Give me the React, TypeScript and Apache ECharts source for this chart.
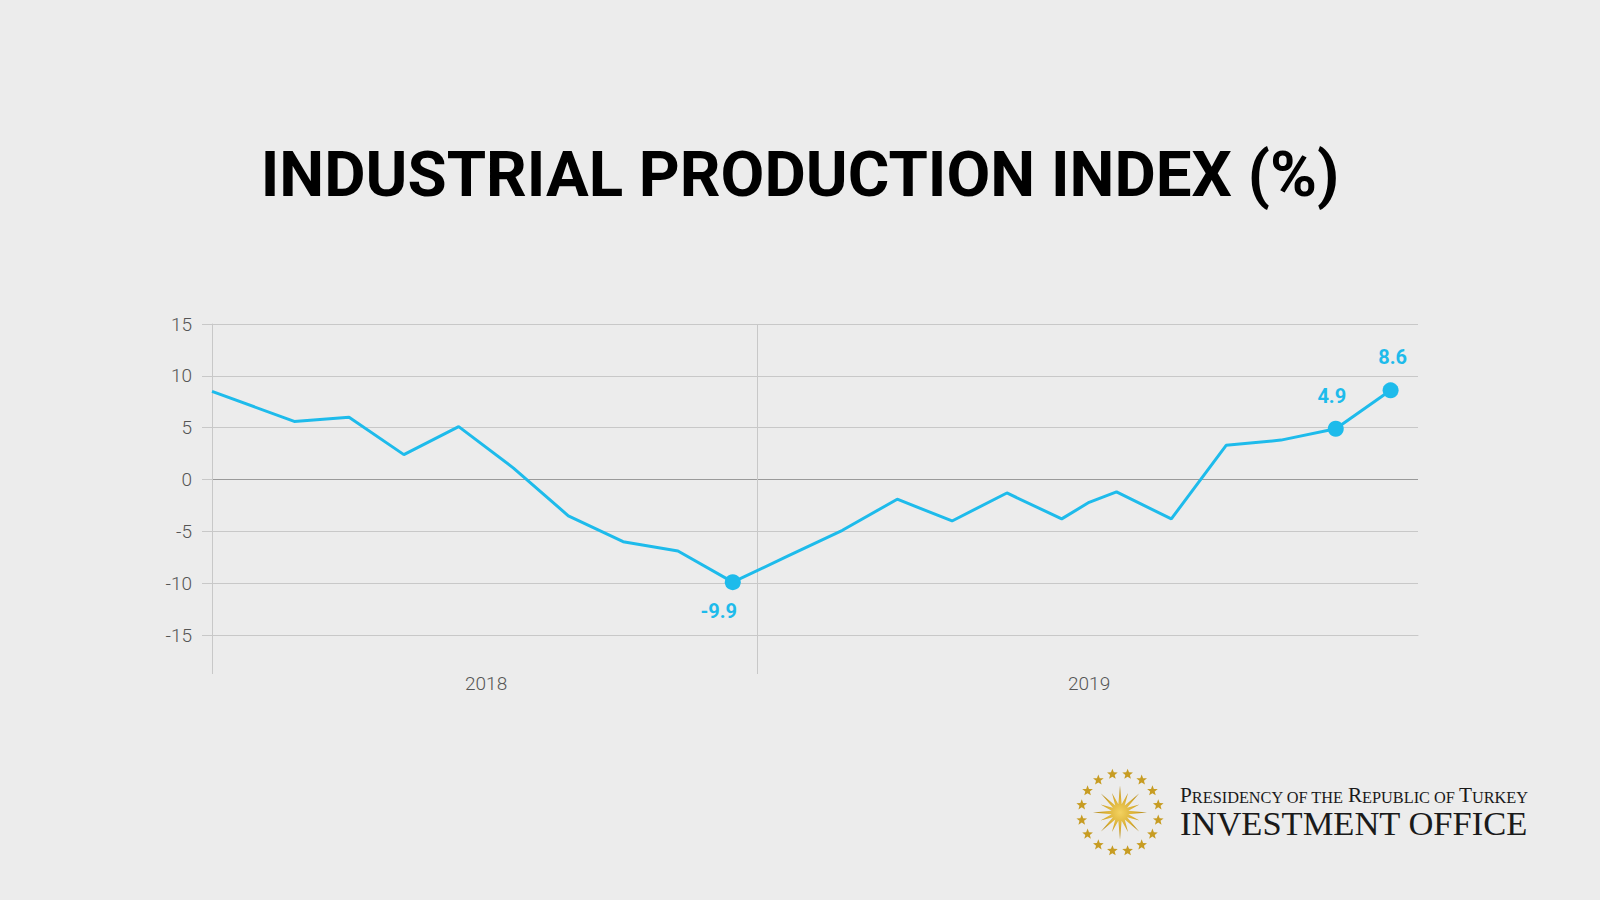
import React, { useEffect, useRef } from "react";
import * as echarts from "echarts";

// ---- data ----
// x positions in months: 1 = Jan 2018 ... 24 = Dec 2019
const monthPositions = [2.5, 4, 5, 6, 7, 8, 9, 10, 11, 12, 13, 14, 15, 16, 17, 18, 18.5, 19, 20, 21, 22, 23, 24];
const ipiValues = [8.5, 5.6, 6.0, 2.4, 5.1, 1.1, -3.5, -6.0, -6.9, -9.9, -7.4, -4.9, -1.9, -4.0, -1.3, -3.8, -2.2, -1.2, -3.8, 3.3, 3.8, 4.9, 8.6];
const highlightIndices = [9, 21, 22];
const yearLabels = ["2018", "2019"];
const yearCenters = [7.5, 18.5];
const yearBoundaries = [2.5, 12.45];
const xRange = [2.5, 24.5];
const yRange = [-15, 15];
const yStep = 5;
const titleText = "INDUSTRIAL PRODUCTION INDEX (%)";

// ---- styles ----
const BLUE = "#1ebbeb";
const GRID_C = "#c8c8c8";
const ZERO_C = "#9a9a9a";
const LABEL_C = "#555555";
const labelPlacements = [
  { position: "bottom", distance: 11, offset: [-14, 0] },
  { position: "top", distance: 15, offset: [-4, 0] },
  { position: "top", distance: 15, offset: [2, 0] },
];

function starPoints(cx: number, cy: number, n: number, outer: (i: number) => number, inner: number, rot: number) {
  const pts: number[][] = [];
  for (let i = 0; i < n * 2; i++) {
    const a = rot + (Math.PI * i) / n;
    const r = i % 2 === 0 ? outer(i / 2) : inner;
    pts.push([cx + r * Math.sin(a), cy - r * Math.cos(a)]);
  }
  return pts;
}

function buildEmblem() {
  const cx = 1120;
  const cy = 812.5;
  const els: any[] = [];
  els.push({
    type: "polygon",
    shape: { points: starPoints(cx, cy, 16, (i) => (i % 2 === 0 ? 27 : 21), 8.5, 0) },
    style: {
      fill: new echarts.graphic.RadialGradient(0.5, 0.5, 0.5, [
        { offset: 0, color: "#f3d260" },
        { offset: 0.6, color: "#d6aa2e" },
        { offset: 1, color: "#a98013" },
      ]),
    },
  });
  for (let k = 0; k < 16; k++) {
    const a = (Math.PI * 2 * k) / 16 + Math.PI / 16;
    const sx = cx + 39 * Math.sin(a);
    const sy = cy - 39 * Math.cos(a);
    els.push({
      type: "polygon",
      shape: { points: starPoints(sx, sy, 5, () => 5.6, 2.4, 0) },
      style: { fill: "#c79c22" },
    });
  }
  return els;
}

export default function App() {
  const ref = useRef<HTMLDivElement>(null);

  useEffect(() => {
    document.body.style.margin = "0";
    if (!ref.current) return;
    const chart = echarts.init(ref.current, undefined, { renderer: "svg" });

    const yTickCount = (yRange[1] - yRange[0]) / yStep + 1;
    const splitColors: string[] = [];
    for (let i = 0; i < yTickCount; i++) {
      splitColors.push(yRange[0] + i * yStep === 0 ? ZERO_C : GRID_C);
    }

    const option: any = {
      animation: false,
      backgroundColor: "#ececec",
      grid: { left: 212, right: 182, top: 324, bottom: 265, containLabel: false },
      xAxis: {
        type: "value",
        min: xRange[0],
        max: xRange[1],
        axisLine: { show: true, onZero: false, lineStyle: { color: GRID_C, width: 1 } },
        axisTick: {
          show: true,
          customValues: yearBoundaries,
          length: 39,
          lineStyle: { color: GRID_C, width: 1 },
        },
        axisLabel: {
          show: true,
          customValues: yearCenters,
          formatter: (v: number) => {
            const i = yearCenters.indexOf(v);
            return i >= 0 ? yearLabels[i] : "";
          },
          margin: 39,
          color: LABEL_C,
          fontSize: 19,
          fontFamily: "Roboto",
          fontWeight: 300,
        },
        splitLine: { show: true, lineStyle: { color: GRID_C, width: 1 } },
      },
      yAxis: {
        type: "value",
        min: yRange[0],
        max: yRange[1],
        interval: yStep,
        axisLine: { show: true, lineStyle: { color: GRID_C, width: 1 } },
        axisTick: { show: true, length: 10, lineStyle: { color: GRID_C, width: 1 } },
        axisLabel: {
          margin: 20,
          color: LABEL_C,
          fontSize: 19,
          fontFamily: "Roboto",
          fontWeight: 300,
        },
        splitLine: { show: true, lineStyle: { color: splitColors, width: 1 } },
      },
      series: [
        {
          type: "line",
          data: monthPositions.map((x, i) => [x, ipiValues[i]]),
          showSymbol: false,
          symbol: "none",
          lineStyle: { color: BLUE, width: 3 },
          z: 3,
        },
        {
          type: "scatter",
          data: highlightIndices.map((idx, k) => ({
            value: [monthPositions[idx], ipiValues[idx]],
            label: labelPlacements[k],
          })),
          symbol: "circle",
          symbolSize: 16,
          itemStyle: { color: BLUE, opacity: 1 },
          label: {
            show: true,
            formatter: (p: any) => Number(p.value[1]).toFixed(1),
            color: BLUE,
            fontSize: 20,
            fontWeight: "bold",
            fontFamily: "Roboto",
          },
          z: 4,
        },
      ],
      graphic: [
        {
          type: "text",
          x: 800,
          y: 174,
          style: {
            text: titleText,
            fontSize: 63.6,
            fontWeight: "bold",
            fontFamily: "Roboto",
            fill: "#000000",
            align: "center",
            verticalAlign: "middle",
          },
        },
        {
          type: "text",
          x: 1180,
          y: 795,
          style: {
            text: "{b|P}{s|RESIDENCY OF THE }{b|R}{s|EPUBLIC OF }{b|T}{s|URKEY}",
            rich: {
              b: { fontSize: 21.3, fontFamily: "Liberation Serif", fill: "#1a1a1a", verticalAlign: "bottom" },
              s: { fontSize: 16.3, fontFamily: "Liberation Serif", fill: "#1a1a1a", verticalAlign: "bottom" },
            },
            align: "left",
            verticalAlign: "middle",
          },
        },
        {
          type: "text",
          x: 1180,
          y: 823,
          style: {
            text: "INVESTMENT OFFICE",
            fontSize: 34.5,
            fontFamily: "Liberation Serif",
            fill: "#1a1a1a",
            align: "left",
            verticalAlign: "middle",
          },
        },
        ...buildEmblem(),
      ],
    };

    chart.setOption(option);
    return () => chart.dispose();
  }, []);

  return (
    <div
      ref={ref}
      style={{ position: "absolute", left: 0, top: 0, width: 1600, height: 900 }}
    />
  );
}
